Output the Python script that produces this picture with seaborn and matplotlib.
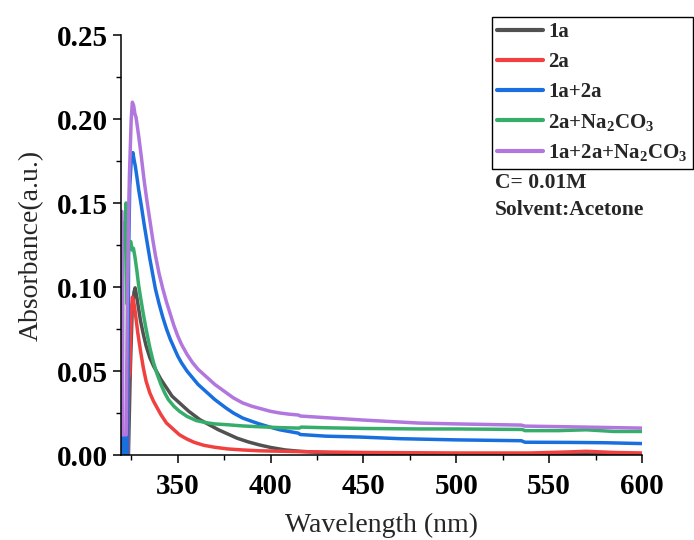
import numpy as np
import pandas as pd
import matplotlib
matplotlib.use("Agg")
import matplotlib.pyplot as plt
from matplotlib.ticker import MultipleLocator
import seaborn as sns

# ---- data (wavelength nm, absorbance a.u.) ----
wl_1a = [323.5, 324.5, 325.5, 326.5, 327.1, 328, 329, 330, 331.5, 333, 335, 337, 339, 341,
         344, 347, 351, 356, 362, 367, 372, 377, 382, 388, 394, 400, 408, 416, 430, 450,
         500, 550, 600]
ab_1a = [0.0, 0.05, 0.085, 0.097, 0.0995, 0.094, 0.087, 0.080, 0.072, 0.065, 0.058, 0.053,
         0.049, 0.045, 0.040, 0.035, 0.031, 0.026, 0.021, 0.018, 0.015, 0.0125, 0.010,
         0.0078, 0.006, 0.0045, 0.003, 0.0022, 0.0013, 0.0008, 0.0005, 0.0005, 0.0005]

wl_2a = [323.3, 323.6, 324.2, 325.0, 325.6, 326.2, 326.8, 327.5, 328.5, 330, 331.5, 333,
         335, 337, 339, 341, 344, 347, 351, 355, 359, 364, 370, 377, 385, 394, 416, 450,
         500, 540, 560, 570, 585, 600]
ab_2a = [0.0, 0.046, 0.048, 0.085, 0.094, 0.092, 0.088, 0.082, 0.073, 0.062, 0.052, 0.044,
         0.037, 0.032, 0.028, 0.024, 0.019, 0.016, 0.012, 0.0095, 0.0075, 0.0058, 0.0046,
         0.0036, 0.003, 0.0025, 0.002, 0.0015, 0.0012, 0.0012, 0.0018, 0.0022, 0.0015, 0.0012]

wl_1a2a = [320.0, 320.0, 320.6, 320.6, 321.2, 321.2, 321.8, 321.8, 322.4, 322.4, 323.0,
           323.6, 324.2, 325.0, 325.9, 326.5, 327.2, 328, 329, 330.5, 332, 333.5, 335,
           336.5, 338, 340, 342, 344, 346, 348, 350, 352, 355, 358, 361, 365, 370, 376,
           380, 385, 390, 394, 400, 405, 410, 415, 416, 430, 448, 470, 500, 535, 537, 560,
           580, 600]
ab_1a2a = [0.0, 0.011, 0.011, 0.0, 0.0, 0.011, 0.011, 0.0, 0.0, 0.011, 0.0,
           0.12, 0.16, 0.175, 0.180, 0.176, 0.172, 0.166, 0.158, 0.148, 0.137, 0.127, 0.117,
           0.108, 0.099, 0.090, 0.082, 0.075, 0.069, 0.064, 0.059, 0.055, 0.050, 0.046,
           0.042, 0.038, 0.033, 0.028, 0.025, 0.022, 0.020, 0.0185, 0.0165, 0.015, 0.014,
           0.013, 0.0122, 0.0112, 0.0107, 0.0097, 0.009, 0.0085, 0.0076, 0.0075, 0.0073, 0.0068]

wl_2aNa = [320.2, 320.6, 321.8, 322.2, 322.7, 323.4, 324.0, 324.8, 325.5, 326.2, 327, 328,
           329, 330, 331.5, 333, 335, 337, 339, 341, 343, 345, 348, 351, 355, 360, 365, 370,
           377, 385, 394, 405, 415.5, 416.5, 430, 450, 480, 500, 535.5, 537, 555, 570, 585, 600]
ab_2aNa = [0.015, 0.138, 0.138, 0.150, 0.09, 0.120, 0.126, 0.127, 0.122, 0.123, 0.118,
           0.110, 0.101, 0.094, 0.084, 0.075, 0.064, 0.055, 0.048, 0.042, 0.037, 0.033,
           0.029, 0.026, 0.023, 0.0205, 0.0193, 0.0185, 0.018, 0.0173, 0.0168, 0.0163,
           0.016, 0.0166, 0.0162, 0.0158, 0.0155, 0.0155, 0.0152, 0.0145, 0.0145, 0.015,
           0.014, 0.014]

wl_all = [320.0, 320.4, 322.3, 323.0, 324.0, 325.0, 325.6, 326.3, 327.0, 327.6, 329, 330.5,
          332, 333.5, 335, 336.5, 338, 340, 342, 344, 346, 348, 350, 352, 355, 358, 361, 365,
          370, 375, 380, 385, 390, 395, 400, 405, 410, 415, 416, 430, 450, 480, 500, 535,
          537, 560, 600]
ab_all = [0.145, 0.012, 0.012, 0.10, 0.165, 0.200, 0.210, 0.208, 0.203, 0.201, 0.190, 0.177,
          0.163, 0.151, 0.140, 0.129, 0.119, 0.108, 0.099, 0.091, 0.084, 0.077, 0.071, 0.066,
          0.060, 0.055, 0.051, 0.047, 0.042, 0.038, 0.034, 0.031, 0.029, 0.0275, 0.026,
          0.025, 0.0243, 0.0238, 0.0232, 0.0222, 0.0208, 0.019, 0.0185, 0.0178, 0.0172,
          0.0168, 0.016]

labels = ["1a", "2a", "1a+2a", "2a+Na$_2$CO$_3$", "1a+2a+Na$_2$CO$_3$"]
colors = ["#515151", "#F14040", "#1A6FDF", "#37AD6B", "#B177DE"]
x_ticks = [350, 400, 450, 500, 550, 600]
y_ticks = [0.00, 0.05, 0.10, 0.15, 0.20, 0.25]

series = [(wl_1a, ab_1a), (wl_2a, ab_2a), (wl_1a2a, ab_1a2a), (wl_2aNa, ab_2aNa), (wl_all, ab_all)]
frames = []
for lab, (wl, ab) in zip(labels, series):
    frames.append(pd.DataFrame({"Wavelength": wl, "Absorbance": ab, "Sample": lab}))
df = pd.concat(frames, ignore_index=True)

sns.set_style("ticks")
plt.rcParams["font.family"] = ["Liberation Serif", "DejaVu Serif"]
plt.rcParams["mathtext.fontset"] = "custom"
plt.rcParams["mathtext.rm"] = "Liberation Serif:bold"
plt.rcParams["mathtext.it"] = "Liberation Serif:bold"
plt.rcParams["mathtext.bf"] = "Liberation Serif:bold"

fig = plt.figure(figsize=(6.94, 5.40), dpi=100)
ax = fig.add_axes([121 / 694, 1 - 455 / 540, (642 - 121) / 694, (455 - 35) / 540])

sns.lineplot(data=df, x="Wavelength", y="Absorbance", hue="Sample", hue_order=labels,
             palette=colors, sort=False, estimator=None, lw=2.5, ax=ax)

ax.set_xlim(319.5, 600)
ax.set_ylim(0, 0.25)
ax.set_xticks(x_ticks)
ax.set_yticks(y_ticks)
ax.xaxis.set_minor_locator(MultipleLocator(25))
ax.yaxis.set_minor_locator(MultipleLocator(0.025))
ax.set_xticklabels([str(v) for v in x_ticks])
ax.set_yticklabels([f"{v:.2f}" for v in y_ticks])
for sp in ["top", "right"]:
    ax.spines[sp].set_visible(False)
for sp in ["left", "bottom"]:
    ax.spines[sp].set_linewidth(1.1)
    ax.spines[sp].set_color("black")
ax.tick_params(axis="both", which="major", direction="out", length=6, width=1.1,
               colors="black", labelsize=21)
ax.tick_params(axis="both", which="minor", direction="out", length=3.5, width=1.0, colors="black")
ax.tick_params(axis="x", which="major", pad=7)
ax.tick_params(axis="y", which="major", pad=3)
for t in ax.get_xticklabels() + ax.get_yticklabels():
    t.set_fontweight("bold")

ax.set_xlabel("Wavelength (nm)", fontsize=20, labelpad=9)
ax.set_ylabel("Absorbance(a.u.)", fontsize=20, labelpad=10)

handles, labs = ax.get_legend_handles_labels()
leg = ax.legend(handles, labs, loc="upper left", bbox_to_anchor=(492 / 694, 1 - 17 / 540),
                bbox_transform=fig.transFigure, frameon=True, fancybox=False,
                edgecolor="black", framealpha=1, fontsize=15, handlelength=2.2,
                handletextpad=0.25, borderpad=0.25, labelspacing=0.47, borderaxespad=0)
leg.get_frame().set_linewidth(1.0)
for line in leg.get_lines():
    line.set_linewidth(3)
for t in leg.get_texts():
    t.set_fontweight("bold")

fig.text(495 / 694, 1 - 183 / 540, "C= 0.01M", fontsize=15.5, fontweight="bold", va="center", ha="left")
fig.text(495 / 694, 1 - 210 / 540, "Solvent:Acetone", fontsize=15.5, fontweight="bold", va="center", ha="left")

fig.savefig("out.png", dpi=100)
